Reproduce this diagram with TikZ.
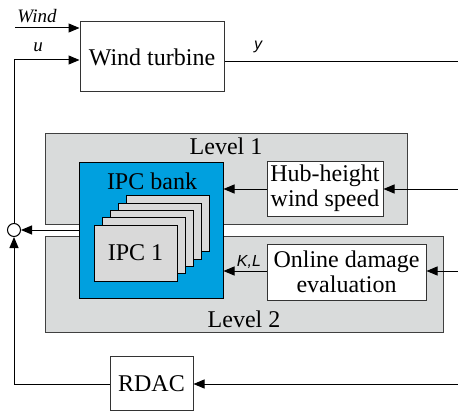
\documentclass[tikz,border=0pt]{standalone}
\usepackage{fontspec}
\setmainfont{Liberation Serif}
\newfontfamily\labelsans{Liberation Sans}
\usetikzlibrary{arrows.meta,positioning}

\definecolor{levelgray}{RGB}{217,219,219}
\definecolor{ipcblue}{RGB}{0,160,223}
\definecolor{ipcgray}{RGB}{217,217,217}

\tikzset{
  blk/.style={draw=black!80, line width=1pt, fill=white, inner sep=0pt, align=center,
    font=\fontsize{24}{25}\selectfont},
  levelbox/.style={draw=black!75, line width=1pt, fill=levelgray, inner sep=0pt},
  ipcbox/.style={draw=black, line width=1pt, fill=ipcgray, inner sep=0pt,
    minimum width=83pt, minimum height=56pt, font=\fontsize{24}{25}\selectfont},
  arr/.style={line width=1pt, -{Triangle[length=11pt,width=9pt]}},
  lbl/.style={font=\fontsize{19}{20}\selectfont\itshape, inner sep=0pt},
  lblsans/.style={font=\fontsize{16}{18}\selectfont\labelsans\itshape, inner sep=0pt},
  big/.style={font=\fontsize{24}{25}\selectfont, inner sep=0pt}
}

\begin{document}
\begin{tikzpicture}[x=1pt,y=-1pt]
  \useasboundingbox (0,0) rectangle (458,412);

  % Turbina
  \node[blk, minimum width=144pt, minimum height=70pt] (turbine) at (152,57) {Wind turbine};

  % Niveles
  \node[levelbox, minimum width=362pt, minimum height=91pt] (level1) at (226,178.5) {};
  \node[levelbox, minimum width=398pt, minimum height=96pt] (level2) at (244,284) {};
  \node[big] (level1 label) at (226,146) {Level 1};
  \node[big] (level2 label) at (244,319) {Level 2};

  % Banco IPC
  \node[draw=black, line width=1pt, fill=ipcblue, inner sep=0pt,
    minimum width=144pt, minimum height=136pt] (bank) at (151,230) {};
  \node[big] (bank label) at (152,181) {IPC bank};
  \foreach \k in {4,3,2,1}
    \node[ipcbox] (ipc\k) at (135.5+8.2*\k, 253-7.3*\k) {};
  \node[ipcbox] (ipc0) at (135.5,253) {IPC 1};

  % Bloques de estimacion
  \node[blk, minimum width=116pt, minimum height=55pt] (hub) at (325,188.5)
    {Hub-height\\wind speed};
  \node[blk, minimum width=159pt, minimum height=56pt] (damage) at (346.5,272)
    {Online damage\\evaluation};

  % RDAC
  \node[blk, minimum width=83pt, minimum height=54pt] (rdac) at (151.5,383.5) {RDAC};

  % Sumador
  \node[draw=black, line width=1pt, fill=white, circle, minimum size=13pt, inner sep=0pt]
    (sum) at (14,230) {};

  % Entradas y salida de la turbina
  \coordinate (wind in) at (15,28);
  \coordinate (u corner) at (14,60);
  \coordinate (y out) at (458,62);
  \draw[arr] (wind in) -- (turbine.west |- wind in);
  \node[lbl] (wind label) at (37,16) {Wind};
  \draw[arr] (sum.north) -- (u corner) -- (turbine.west |- u corner);
  \node[lbl] (u label) at (38,47) {u};
  \draw[line width=1pt] (turbine.east |- y out) -- (y out);
  \node[lblsans] (y label) at (258,47) {y};

  % Lazos de medida
  \coordinate (hub in) at (458,189);
  \coordinate (damage in) at (458,271);
  \coordinate (rdac in) at (458,384);
  \draw[arr] (hub in) -- (hub.east |- hub in);
  \draw[arr] (hub.west |- hub in) -- (bank.east |- hub in);
  \draw[arr] (damage in) -- (damage.east |- damage in);
  \draw[arr] (damage.west |- damage in) -- (bank.east |- damage in);
  \node[lblsans] (kl label) at (249,262) {K,L};
  \draw[arr] (rdac in) -- (rdac.east |- rdac in);

  % Realimentacion al sumador
  \draw[arr] (bank.west |- sum) -- (sum.east);
  \draw[arr] (rdac.west |- rdac in) -- (sum.south |- rdac in) -- (sum.south);
\end{tikzpicture}
\end{document}
